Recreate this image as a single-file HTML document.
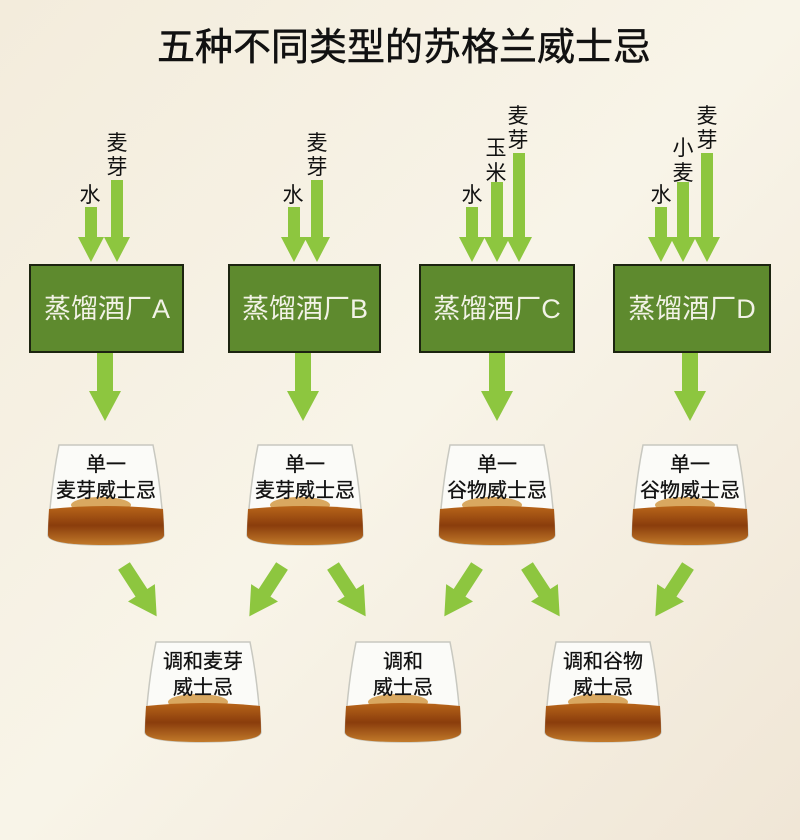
<!DOCTYPE html>
<html><head><meta charset="utf-8"><style>
html,body{margin:0;padding:0;width:800px;height:840px;overflow:hidden;background:#f6f1e2}
svg{display:block}
text{font-family:"Liberation Sans","Noto Sans CJK SC",sans-serif}
</style></head><body>
<svg width="800" height="840" viewBox="0 0 800 840" xmlns="http://www.w3.org/2000/svg">
<defs>
<linearGradient id="bg" x1="0" y1="0" x2="1" y2="1">
<stop offset="0" stop-color="#f3ecdc"/><stop offset="0.5" stop-color="#f8f4e8"/><stop offset="1" stop-color="#f0e6d6"/>
</linearGradient>
<linearGradient id="liq" x1="0" y1="0" x2="0" y2="1">
<stop offset="0" stop-color="#b8651a"/><stop offset="0.5" stop-color="#8a3d0c"/><stop offset="1" stop-color="#c27a2a"/>
</linearGradient>
<g id="glass">
<path d="M-47,0 L47,0 Q55,40 58,90 Q58,100 0,100 Q-58,100 -58,90 Q-55,40 -47,0Z" fill="#fbfbf8" stroke="#c8c8c0" stroke-width="1.5"/>
<ellipse cx="-5" cy="60" rx="30" ry="8" fill="#d9a860"/>
<path d="M-57,64 Q0,58 57,64 Q58,80 58,90 Q58,100 0,100 Q-58,100 -58,90 Q-58,80 -57,64Z" fill="url(#liq)"/>
</g>
<g id="dn"><path d="M-8,0 L8,0 L8,38 L16,38 L0,68 L-16,38 L-8,38Z" fill="#8dc63f"/></g>
<g id="dg"><path d="M-7,0 L7,0 L7,32 L16,32 L0,60 L-16,32 L-7,32Z" fill="#8dc63f"/></g>
</defs>
<rect width="800" height="840" fill="url(#bg)"/>
<text x="404" y="60" font-size="38" text-anchor="middle" fill="#111" stroke="#111" stroke-width="0.5">五种不同类型的苏格兰威士忌</text>

<!-- input arrows -->
<g fill="#8dc63f">
<path d="M85,207 h12 v30 h7 l-13,25 l-13,-25 h7z"/>
<path d="M111,180 h12 v57 h7 l-13,25 l-13,-25 h7z"/>
<path d="M288,207 h12 v30 h7 l-13,25 l-13,-25 h7z"/>
<path d="M311,180 h12 v57 h7 l-13,25 l-13,-25 h7z"/>
<path d="M466,207 h12 v30 h7 l-13,25 l-13,-25 h7z"/>
<path d="M491,182 h12 v55 h7 l-13,25 l-13,-25 h7z"/>
<path d="M513,153 h12 v84 h7 l-13,25 l-13,-25 h7z"/>
<path d="M655,207 h12 v30 h7 l-13,25 l-13,-25 h7z"/>
<path d="M677,182 h12 v55 h7 l-13,25 l-13,-25 h7z"/>
<path d="M701,153 h12 v84 h7 l-13,25 l-13,-25 h7z"/>
</g>
<g font-size="21" fill="#111" text-anchor="middle">
<text x="90" y="202">水</text><text x="117" y="150">麦</text><text x="117" y="174">芽</text>
<text x="293" y="202">水</text><text x="317" y="150">麦</text><text x="317" y="174">芽</text>
<text x="472" y="202">水</text><text x="496" y="155">玉</text><text x="496" y="180">米</text><text x="518" y="123">麦</text><text x="518" y="147">芽</text>
<text x="661" y="202">水</text><text x="683" y="155">小</text><text x="683" y="180">麦</text><text x="707" y="123">麦</text><text x="707" y="147">芽</text>
</g>

<!-- boxes -->
<g fill="#5e8a2e" stroke="#1c2410" stroke-width="2">
<rect x="30" y="265" width="153" height="87"/>
<rect x="229" y="265" width="151" height="87"/>
<rect x="420" y="265" width="154" height="87"/>
<rect x="614" y="265" width="156" height="87"/>
</g>
<g font-size="27" fill="#f2f2e6" text-anchor="middle">
<text x="107" y="318">蒸馏酒厂A</text>
<text x="305" y="318">蒸馏酒厂B</text>
<text x="497" y="318">蒸馏酒厂C</text>
<text x="692" y="318">蒸馏酒厂D</text>
</g>
<use href="#dn" x="105" y="353"/>
<use href="#dn" x="303" y="353"/>
<use href="#dn" x="497" y="353"/>
<use href="#dn" x="690" y="353"/>

<!-- top glasses -->
<use href="#glass" x="106" y="445"/>
<use href="#glass" x="305" y="445"/>
<use href="#glass" x="497" y="445"/>
<use href="#glass" x="690" y="445"/>
<g font-size="20" fill="#111" text-anchor="middle" stroke="#111" stroke-width="0.3">
<text x="106" y="471">单一</text><text x="106" y="497">麦芽威士忌</text>
<text x="305" y="471">单一</text><text x="305" y="497">麦芽威士忌</text>
<text x="497" y="471">单一</text><text x="497" y="497">谷物威士忌</text>
<text x="690" y="471">单一</text><text x="690" y="497">谷物威士忌</text>
</g>

<!-- diagonal arrows -->
<use href="#dg" transform="translate(124,566) rotate(-33)"/>
<use href="#dg" transform="translate(282,566) rotate(33)"/>
<use href="#dg" transform="translate(333,566) rotate(-33)"/>
<use href="#dg" transform="translate(477,566) rotate(33)"/>
<use href="#dg" transform="translate(527,566) rotate(-33)"/>
<use href="#dg" transform="translate(688,566) rotate(33)"/>

<!-- bottom glasses -->
<use href="#glass" x="203" y="642"/>
<use href="#glass" x="403" y="642"/>
<use href="#glass" x="603" y="642"/>
<g font-size="20" fill="#111" text-anchor="middle" stroke="#111" stroke-width="0.3">
<text x="203" y="668">调和麦芽</text><text x="203" y="694">威士忌</text>
<text x="403" y="668">调和</text><text x="403" y="694">威士忌</text>
<text x="603" y="668">调和谷物</text><text x="603" y="694">威士忌</text>
</g>
</svg>
</body></html>
